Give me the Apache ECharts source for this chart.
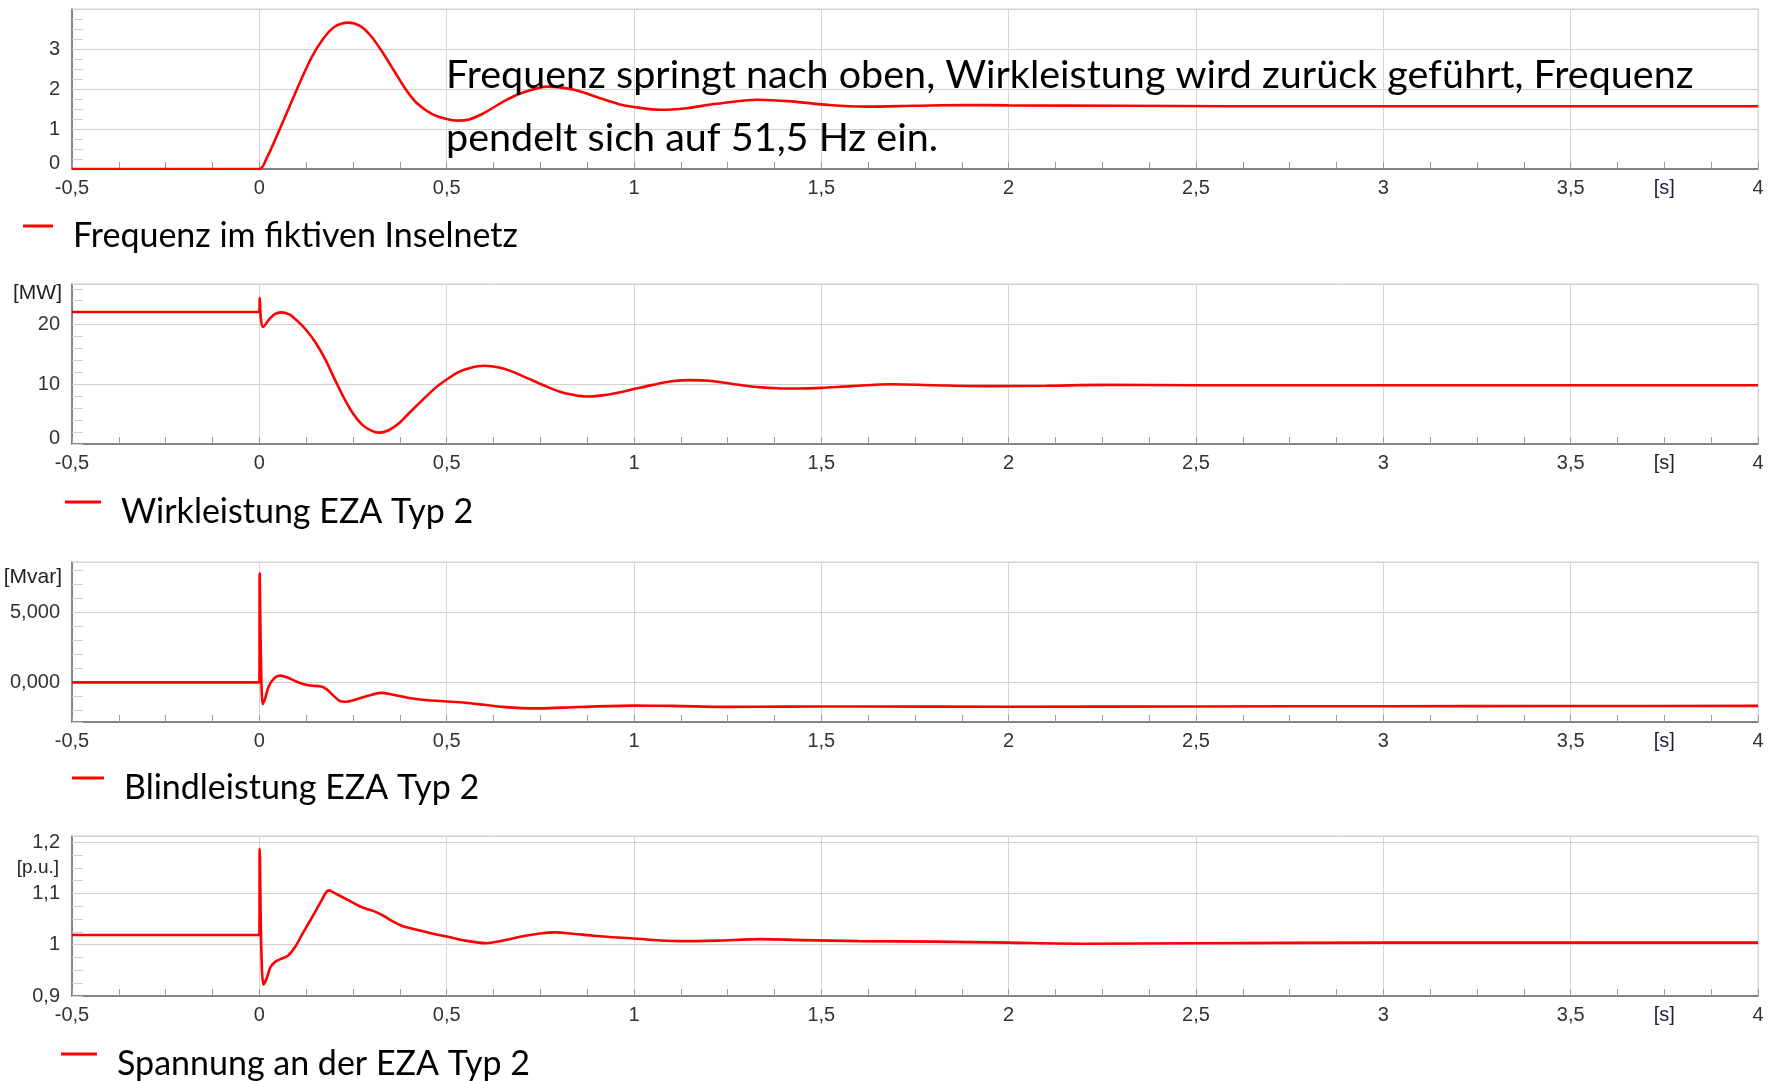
<!DOCTYPE html>
<html><head><meta charset="utf-8">
<script src="https://cdn.jsdelivr.net/npm/echarts@6/dist/echarts.min.js"></script>
<style>html,body{margin:0;padding:0;background:#fff}#c{width:1768px;height:1081px}</style>
</head><body><div id="c"></div>
<script>
// ---------- data ----------
const seriesNames = ['Frequenz im fiktiven Inselnetz', 'Wirkleistung EZA Typ 2', 'Blindleistung EZA Typ 2', 'Spannung an der EZA Typ 2'];

const xTickValues = [-0.5, 0, 0.5, 1, 1.5, 2, 2.5, 3, 3.5, 4];
const xTickLabels = ['-0,5', '0', '0,5', '1', '1,5', '2', '2,5', '3', '3,5', '4'];
const timeUnit = '[s]';

const freqTickValues = [0, 1, 2, 3];
const freqTickLabels = ['0', '1', '2', '3'];
const powerTickValues = [0, 10, 20];
const powerTickLabels = ['0', '10', '20'];
const reactiveTickValues = [0, 5];
const reactiveTickLabels = ['0,000', '5,000'];
const voltageTickValues = [0.9, 1, 1.1, 1.2];
const voltageTickLabels = ['0,9', '1', '1,1', '1,2'];
const unitLabels = ['', '[MW]', '[Mvar]', '[p.u.]'];

const freqTime = [-0.5, 0, 0.02, 0.05, 0.08, 0.11, 0.14, 0.17, 0.2, 0.237, 0.27, 0.3, 0.33, 0.36, 0.39, 0.42, 0.46, 0.5, 0.53, 0.56, 0.6, 0.65, 0.7, 0.77, 0.84, 0.9, 0.96, 1.0, 1.07, 1.14, 1.22, 1.33, 1.42, 1.52, 1.62, 1.75, 1.88, 2.0, 2.3, 2.6, 3.0, 3.5, 4.0];
const freqValues = [0, 0, 0.28, 0.9, 1.55, 2.2, 2.8, 3.25, 3.55, 3.66, 3.57, 3.3, 2.9, 2.45, 2.0, 1.65, 1.38, 1.25, 1.21, 1.24, 1.4, 1.68, 1.9, 2.06, 1.98, 1.8, 1.62, 1.55, 1.48, 1.52, 1.63, 1.73, 1.69, 1.6, 1.56, 1.58, 1.6, 1.59, 1.58, 1.57, 1.57, 1.57, 1.57];

const powerTime = [-0.5, 0, 0.001, 0.004, 0.01, 0.025, 0.04, 0.058, 0.08, 0.1, 0.125, 0.15, 0.175, 0.2, 0.225, 0.25, 0.275, 0.3, 0.32, 0.345, 0.375, 0.4, 0.436, 0.47, 0.5, 0.53, 0.56, 0.6, 0.64, 0.68, 0.72, 0.76, 0.8, 0.84, 0.875, 0.91, 0.95, 1.0, 1.05, 1.1, 1.15, 1.2, 1.26, 1.32, 1.38, 1.44, 1.5, 1.58, 1.69, 1.8, 1.95, 2.1, 2.25, 2.5, 3.0, 3.5, 4.0];
const powerValues = [22.1, 22.1, 24.5, 21.0, 19.6, 20.8, 21.7, 22.05, 21.7, 20.7, 19.1, 17.0, 14.3, 11.0, 7.8, 5.1, 3.2, 2.2, 1.9, 2.3, 3.6, 5.2, 7.4, 9.4, 10.8, 12.0, 12.7, 13.1, 12.8, 12.0, 10.9, 9.8, 8.8, 8.2, 7.95, 8.1, 8.5, 9.2, 9.9, 10.5, 10.7, 10.6, 10.1, 9.6, 9.35, 9.3, 9.4, 9.7, 10.0, 9.85, 9.7, 9.75, 9.9, 9.85, 9.85, 9.85, 9.85];

const reactiveTime = [-0.5, 0, 0.001, 0.004, 0.009, 0.015, 0.025, 0.04, 0.055, 0.075, 0.1, 0.13, 0.165, 0.18, 0.2, 0.215, 0.23, 0.26, 0.29, 0.325, 0.36, 0.4, 0.45, 0.5, 0.55, 0.6, 0.65, 0.7, 0.75, 0.85, 1.0, 1.1, 1.25, 1.4, 1.6, 2.0, 2.5, 3.0, 3.5, 4.0];
const reactiveValues = [0, 0, 7.8, 2.0, -1.55, -1.2, -0.3, 0.3, 0.48, 0.35, 0.05, -0.2, -0.3, -0.5, -1.0, -1.33, -1.38, -1.2, -0.95, -0.75, -0.9, -1.12, -1.28, -1.36, -1.45, -1.6, -1.75, -1.84, -1.86, -1.76, -1.66, -1.68, -1.75, -1.73, -1.72, -1.74, -1.72, -1.7, -1.69, -1.68];

const voltageTime = [-0.5, 0, 0.001, 0.005, 0.011, 0.02, 0.03, 0.045, 0.06, 0.077, 0.095, 0.115, 0.13, 0.146, 0.165, 0.18, 0.186, 0.2, 0.237, 0.265, 0.29, 0.31, 0.33, 0.355, 0.38, 0.42, 0.46, 0.5, 0.55, 0.605, 0.65, 0.7, 0.75, 0.79, 0.83, 0.9, 1.0, 1.12, 1.22, 1.34, 1.45, 1.6, 1.8, 2.0, 2.2, 2.5, 3.0, 4.0];
const voltageValues = [1.019, 1.019, 1.187, 1.0, 0.922, 0.935, 0.957, 0.968, 0.973, 0.979, 0.995, 1.021, 1.04, 1.06, 1.085, 1.104, 1.106, 1.101, 1.087, 1.076, 1.069, 1.064, 1.057, 1.046, 1.037, 1.029, 1.022, 1.016, 1.008, 1.003, 1.008, 1.016, 1.022, 1.024, 1.022, 1.017, 1.012, 1.007, 1.008, 1.011, 1.009, 1.007, 1.006, 1.004, 1.002, 1.003, 1.004, 1.004];

// ---------- layout ----------
const gridTops = [9, 284, 562, 836];
const gridHeight = 160;
const gridLeft = 72, gridRight = 10;
const yMin = [0, 0, -2.83, 0.9];
const yMax = [4, 26.8, 8.6, 1.212];
const yInterval = [1, 10, null, 0.1];
const yMinorSplit = [4, 5, 5, 4];
const unitGap = [0, -9, -15, -32];
const unitFontSize = [20, 21, 21, 19];
const unitPadRight = [10, 10, 10, 13];
const legendLeft = [23, 65, 72, 61];
const legendIconW = [30, 36, 32, 36];
const legendIconY = [226, 502, 778, 1054];

const times = [freqTime, powerTime, reactiveTime, voltageTime];
const values = [freqValues, powerValues, reactiveValues, voltageValues];
const yTickValues = [freqTickValues, powerTickValues, reactiveTickValues, voltageTickValues];
const yTickLabels = [freqTickLabels, powerTickLabels, reactiveTickLabels, voltageTickLabels];

function lookup(vals, labels) {
  return v => { const i = vals.findIndex(t => Math.abs(t - v) < 1e-6); return i >= 0 ? labels[i] : ''; };
}

const chart = echarts.init(document.getElementById('c'), null, {renderer: 'canvas'});
const gridW = 1768 - gridLeft - gridRight;
const sNameGap = -(4 - 3.75) / 4.5 * gridW;

const labelFont = {fontFamily: 'Liberation Sans', fontSize: 20, color: '#333'};
const iconH = 23;
const grids = [], xAxes = [], yAxes = [], series = [], legends = [];
for (let i = 0; i < 4; i++) {
  grids.push({left: gridLeft, right: gridRight, top: gridTops[i], height: gridHeight, show: true, borderColor: '#d4d4d4', borderWidth: 1});
  xAxes.push({
    type: 'value', gridIndex: i, min: -0.5, max: 4, interval: 0.5,
    axisLine: {show: true, onZero: false, lineStyle: {color: '#666', width: 1.5}},
    axisTick: {show: true, inside: true, length: 7, lineStyle: {color: '#999'}},
    minorTick: {show: true, splitNumber: 4, length: 7, lineStyle: {color: '#999'}},
    splitLine: {show: true, lineStyle: {color: '#d6d6d6', width: 1}},
    axisLabel: Object.assign({margin: 9, formatter: lookup(xTickValues, xTickLabels)}, labelFont),
    name: timeUnit, nameLocation: 'end', nameGap: sNameGap,
    nameTextStyle: {align: 'center', verticalAlign: 'top', padding: [9, 0, 0, 0], fontFamily: 'Liberation Sans', fontSize: 20, color: '#1c1c40'}
  });
  const ya = {
    type: 'value', gridIndex: i, min: yMin[i], max: yMax[i],
    axisLine: {show: true, onZero: false, lineStyle: {color: '#666', width: 1.5}},
    axisTick: {show: true, inside: true, length: 11, lineStyle: {color: '#d0d0d0'}},
    minorTick: {show: true, splitNumber: yMinorSplit[i], length: 11, lineStyle: {color: '#d0d0d0'}},
    splitLine: {show: true, lineStyle: {color: '#d0d0d0', width: 1}},
    axisLabel: Object.assign({margin: 12, formatter: lookup(yTickValues[i], yTickLabels[i])}, labelFont),
    name: unitLabels[i], nameLocation: 'end', nameGap: unitGap[i],
    nameTextStyle: {align: 'right', verticalAlign: 'middle', padding: [0, unitPadRight[i], 0, 0], fontFamily: 'Liberation Sans', fontSize: unitFontSize[i], color: '#222'}
  };
  if (yInterval[i] !== null) ya.interval = yInterval[i]; else ya.splitNumber = 2;
  if (i < 2) { ya.axisLabel.verticalAlignMinLabel = 'bottom'; ya.axisLabel.lineHeight = 12; }
  yAxes.push(ya);
  series.push({
    type: 'line', name: seriesNames[i], xAxisIndex: i, yAxisIndex: i,
    data: times[i].map((t, k) => [t, values[i][k]]),
    showSymbol: false, smooth: 0.3,
    lineStyle: {color: '#ff0000', width: 2.6}, itemStyle: {color: '#ff0000'},
    z: 5
  });
  legends.push({
    data: [seriesNames[i]], left: legendLeft[i], top: legendIconY[i] - 10, padding: 0,
    icon: 'path://M0,0H30V3H0Z M0,' + iconH + 'H30', symbolKeepAspect: false,
    itemWidth: legendIconW[i], itemHeight: iconH, selectedMode: false,
    itemStyle: {borderWidth: 0, color: '#ff0000'},
    textStyle: {fontFamily: 'Lato', fontSize: 34, color: '#000', lineHeight: 40, padding: [0, 0, 0, 15]}
  });
}

chart.setOption({
  animation: false,
  backgroundColor: '#fff',
  grid: grids, xAxis: xAxes, yAxis: yAxes, series: series, legend: legends,
  graphic: [{
    type: 'text', left: 446, top: 44,
    style: {text: 'Frequenz springt nach oben, Wirkleistung wird zurück geführt, Frequenz\npendelt sich auf 51,5 Hz ein.', font: '39.5px Lato', fill: '#000', lineHeight: 63},
    z: 10
  }]
});
</script></body></html>
